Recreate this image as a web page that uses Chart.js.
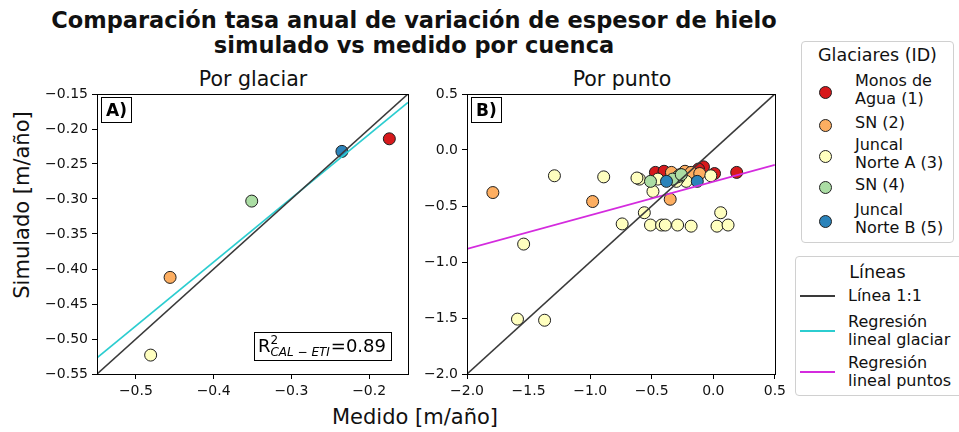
<!DOCTYPE html>
<html>
<head>
<meta charset="utf-8">
<script src="https://cdn.jsdelivr.net/npm/chart.js@4.4.1/dist/chart.umd.min.js"></script>
<style>
body { margin: 0; background: #fff; font-family: 'DejaVu Sans', sans-serif; color: #111; }
#wrap { position: relative; width: 959px; height: 432px; overflow: hidden; }
.abs { position: absolute; white-space: nowrap; }
canvas { position: absolute; }
.titulo { left: 0; width: 828px; text-align: center; font-weight: bold; font-size: 22.5px; line-height: 25px; }
.sub { font-size: 20.5px; line-height: 24px; text-align: center; }
.caja { position: absolute; border: 1px solid #d0d0d0; border-radius: 4px; background: #fff; }
.lt { font-size: 16px; line-height: 18px; }
.mk { position: absolute; width: 11px; height: 11px; border-radius: 50%; border: 1px solid #222; }
.ln { position: absolute; height: 2px; width: 35px; }
</style>
</head>
<body>
<div id="wrap">
  <div class="abs titulo" style="top:8px">Comparación tasa anual de variación de espesor de hielo</div>
  <div class="abs titulo" style="top:33px">simulado vs medido por cuenca</div>
  <div class="abs sub" style="left:153px;width:200px;top:67px">Por glaciar</div>
  <div class="abs sub" style="left:522px;width:200px;top:67px">Por punto</div>
  <div class="abs" style="left:-78px;top:193px;width:200px;text-align:center;font-size:21px;line-height:24px;transform:rotate(-90deg)">Simulado [m/año]</div>
  <div class="abs" style="left:265px;top:405px;width:300px;text-align:center;font-size:21px;line-height:24px">Medido [m/año]</div>

  <canvas id="chartA" width="415" height="330" style="left:0;top:80px"></canvas>
  <canvas id="chartB" width="375" height="330" style="left:415px;top:80px"></canvas>

  <div class="caja" style="left:801px;top:41px;width:151px;height:200px"></div>
  <div class="abs" style="left:801px;width:153px;top:44px;text-align:center;font-size:17.5px;line-height:22px">Glaciares (ID)</div>
  <div id="legGlaciares"></div>

  <div class="caja" style="left:795px;top:256px;width:170px;height:138px"></div>
  <div class="abs" style="left:795px;width:165px;top:261px;text-align:center;font-size:17.5px;line-height:22px">Líneas</div>
  <div id="legLineas"></div>
</div>
<script>
// ---- datos ----
var etiquetas = ["Monos de\nAgua (1)", "SN (2)", "Juncal\nNorte A (3)", "SN (4)", "Juncal\nNorte B (5)"];
var colores = ["#d7191c", "#fdae61", "#ffffbf", "#abdda4", "#2b83ba"];

// A) por glaciar (medido, simulado)
var glaciarMedido = [-0.174, -0.456, -0.481, -0.351, -0.235];
var glaciarSimulado = [-0.214, -0.412, -0.523, -0.303, -0.232];

// B) por punto, un par de listas por glaciar
var medido1 = [0.19, 0.01, -0.08, -0.47, -0.40, -0.12];
var simulado1 = [-0.20, -0.21, -0.15, -0.20, -0.19, -0.17];
var medido2 = [-1.79, -0.98, -0.35, -0.34, -0.23, -0.18, -0.11, -0.27];
var simulado2 = [-0.38, -0.46, -0.44, -0.20, -0.19, -0.20, -0.21, -0.22];
var medido3 = [-1.29, -0.89, -1.54, -1.59, -1.37, -0.74, -0.56, -0.51, -0.42, -0.39, -0.29, -0.18, 0.06, 0.03, 0.12, -0.49, -0.60, -0.62, -0.45, -0.22, -0.02, -0.28, -0.30];
var simulado3 = [-0.23, -0.24, -0.84, -1.51, -1.52, -0.66, -0.56, -0.67, -0.67, -0.67, -0.67, -0.68, -0.56, -0.68, -0.67, -0.37, -0.26, -0.25, -0.26, -0.28, -0.23, -0.25, -0.28];
var medido4 = [-0.51, -0.29, -0.33, -0.26];
var simulado4 = [-0.28, -0.24, -0.26, -0.22];
var medido5 = [-0.38, -0.13];
var simulado5 = [-0.28, -0.28];

// lineas (extremos en unidades de datos)
var unoAunoA = [-0.55, -0.15];
var regGlaciarX = [-0.55, -0.15];
var regGlaciarY = [-0.527, -0.162];
var unoAunoB = [-2.0, 0.5];
var regPuntoX = [-2.0, 0.5];
var regPuntoY = [-0.883, -0.133];

var ticksAx = [-0.5, -0.4, -0.3, -0.2];
var ticksAy = [-0.55, -0.5, -0.45, -0.4, -0.35, -0.3, -0.25, -0.2, -0.15];
var ticksB = [-2.0, -1.5, -1.0, -0.5, 0.0, 0.5];

var colorLinea = "#3a3a3a", colorCian = "#2ccdd0", colorMagenta = "#d42bde";

// ---- helpers ----
function pares(xs, ys) {
  return xs.map(function (x, i) { return { x: x, y: ys[i] }; });
}
function fmt(dec) {
  return function (v) { return Number(v).toFixed(dec).replace("-", "\u2212"); };
}
function eje(min, max, ticks, dec, fijo, esY) {
  return {
    type: "linear", min: min, max: max,
    afterBuildTicks: function (s) { s.ticks = ticks.map(function (v) { return { value: v }; }); },
    afterFit: function (s) { if (esY) s.width = fijo; else s.height = fijo; },
    grid: { drawOnChartArea: false, drawTicks: true, tickLength: 5, color: "#000", tickColor: "#000" },
    border: { display: true, color: "#000", width: 1 },
    ticks: { callback: fmt(dec), color: "#111", font: { family: "DejaVu Sans", size: 14 }, padding: 4, maxRotation: 0, autoSkip: false }
  };
}
function linea(xs, ys, color) {
  return { data: pares(xs, ys), showLine: true, borderColor: color, borderWidth: 1.6, pointRadius: 0, order: 1 };
}
function puntos(xs, ys, i) {
  return { data: pares(xs, ys), backgroundColor: colores[i], borderColor: "#1e1e1e", borderWidth: 1, pointRadius: 6, order: 10 - i };
}

var marco = {
  id: "marco",
  afterDraw: function (chart, args, o) {
    var c = chart.ctx, a = chart.chartArea;
    c.save();
    c.strokeStyle = "#000"; c.lineWidth = 1;
    c.strokeRect(Math.round(a.left) + 0.5, Math.round(a.top) + 0.5, Math.round(a.right - a.left), Math.round(a.bottom - a.top));
    // letra del panel
    c.font = "bold 17px 'DejaVu Sans'";
    var w = c.measureText(o.letra).width;
    c.fillStyle = "#fff";
    c.fillRect(a.left + 4, a.top + 3, w + 9, 25);
    c.strokeRect(Math.round(a.left + 4) + 0.5, Math.round(a.top + 3) + 0.5, Math.round(w + 9), 25);
    c.fillStyle = "#000"; c.textBaseline = "alphabetic";
    c.fillText(o.letra, a.left + 9, a.top + 22);
    if (o.r2) {
      var f1 = "18px 'DejaVu Sans'", f2 = "12px 'DejaVu Sans'", f3 = "italic 12px 'DejaVu Sans'";
      c.font = f1; var wR = c.measureText("R").width, wV = c.measureText("=0.89").width;
      c.font = f3; var wS = c.measureText("CAL \u2212 ETI").width;
      var bw = wR + wS + wV + 10, bh = 28;
      var bx = a.right - 17 - bw, by = a.bottom - 14 - bh;
      c.fillStyle = "#fff"; c.fillRect(bx, by, bw, bh);
      c.strokeRect(Math.round(bx) + 0.5, Math.round(by) + 0.5, Math.round(bw), bh);
      c.fillStyle = "#000";
      var base = by + 20;
      c.font = f1; c.fillText("R", bx + 4, base);
      c.font = f2; c.fillText("2", bx + 4 + wR, base - 8);
      c.font = f3; c.fillText("CAL \u2212 ETI", bx + 4 + wR, base + 4);
      c.font = f1; c.fillText("=0.89", bx + 4 + wR + wS + 1, base);
    }
    c.restore();
  }
};

var comun = {
  responsive: false, animation: false, devicePixelRatio: 1,
  layout: { padding: { top: 14, right: 4, left: 0, bottom: 0 } },
  plugins: { legend: { display: false }, tooltip: { enabled: false } }
};

new Chart(document.getElementById("chartA"), {
  type: "scatter",
  data: {
    datasets: [linea(unoAunoA, unoAunoA, colorLinea), linea(regGlaciarX, regGlaciarY, colorCian)].concat(
      glaciarMedido.map(function (x, i) { return puntos([x], [glaciarSimulado[i]], i); }))
  },
  options: Object.assign({}, comun, {
    plugins: { legend: { display: false }, tooltip: { enabled: false }, marco: { letra: "A)", r2: true } },
    scales: { x: eje(-0.55, -0.15, ticksAx, 1, 36, false), y: eje(-0.55, -0.15, ticksAy, 2, 97, true) }
  }),
  plugins: [marco]
});

var medidos = [medido1, medido2, medido3, medido4, medido5];
var simulados = [simulado1, simulado2, simulado3, simulado4, simulado5];
new Chart(document.getElementById("chartB"), {
  type: "scatter",
  data: {
    datasets: [linea(unoAunoB, unoAunoB, colorLinea), linea(regPuntoX, regPuntoY, colorMagenta)].concat(
      medidos.map(function (xs, i) { return puntos(xs, simulados[i], i); }))
  },
  options: Object.assign({}, comun, {
    layout: { padding: { top: 14, right: 13, left: 0, bottom: 0 } },
    plugins: { legend: { display: false }, tooltip: { enabled: false }, marco: { letra: "B)", r2: false } },
    scales: { x: eje(-2.0, 0.5, ticksB, 1, 36, false), y: eje(-2.0, 0.5, ticksB, 1, 52, true) }
  }),
  plugins: [marco]
});

// ---- leyendas (html) ----
var centros = [91, 124, 155, 186, 220];
var htmlG = "";
etiquetas.forEach(function (t, i) {
  var lineas = t.split("\n");
  var h = lineas.length * 18;
  htmlG += '<div class="mk" style="left:819px;top:' + (centros[i] - 5) + 'px;background:' + colores[i] + '"></div>';
  htmlG += '<div class="abs lt" style="left:855px;top:' + (centros[i] - 1 - h / 2) + 'px">' + lineas.join("<br>") + '</div>';
});
document.getElementById("legGlaciares").innerHTML = htmlG;

var nombresLineas = ["Línea 1:1", "Regresión\nlineal glaciar", "Regresión\nlineal puntos"];
var coloresLineas = [colorLinea, colorCian, colorMagenta];
var centrosL = [296, 331, 372];
var htmlL = "";
nombresLineas.forEach(function (t, i) {
  var lineas = t.split("\n");
  var h = lineas.length * 18;
  htmlL += '<div class="ln" style="left:800px;top:' + (centrosL[i] - 1) + 'px;background:' + coloresLineas[i] + '"></div>';
  htmlL += '<div class="abs lt" style="left:848px;top:' + (centrosL[i] - h / 2) + 'px">' + lineas.join("<br>") + '</div>';
});
document.getElementById("legLineas").innerHTML = htmlL;
</script>
</body>
</html>
